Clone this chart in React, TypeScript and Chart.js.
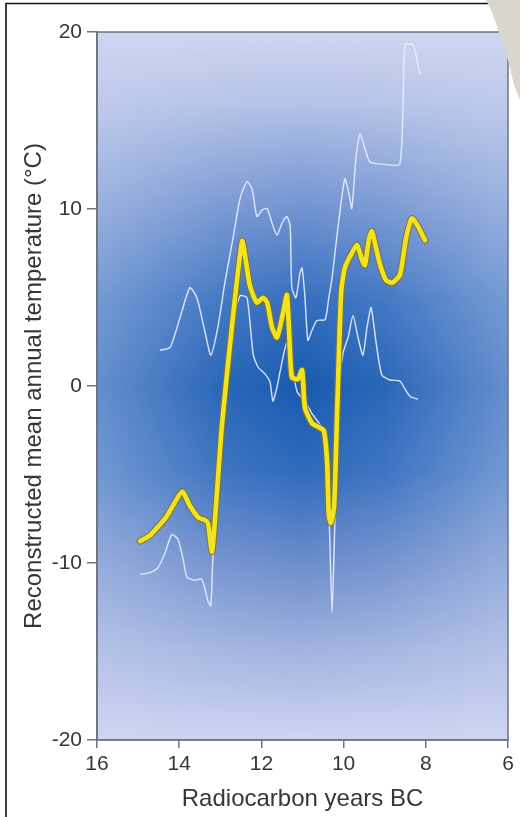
import React, { useEffect, useRef } from "react";
import { Chart, registerables } from "chart.js";

Chart.register(...registerables);

// Reconstructed mean annual temperature (°C) vs radiocarbon years BC (thousands)
const yellowYears = [14.95, 14.71, 14.52, 14.32, 14.18, 13.93, 13.74, 13.54, 13.37, 13.3, 13.2, 13.08, 12.96, 12.72, 12.47, 12.37, 12.28, 12.11, 11.96, 11.86, 11.74, 11.62, 11.47, 11.38, 11.33, 11.26, 11.11, 11.01, 10.94, 10.77, 10.62, 10.48, 10.4, 10.36, 10.31, 10.23, 10.16, 10.06, 9.97, 9.8, 9.67, 9.55, 9.48, 9.38, 9.31, 9.21, 9.11, 8.97, 8.82, 8.63, 8.48, 8.34, 8.19, 8.02];
const yellowTemps = [-8.76, -8.44, -7.96, -7.42, -6.88, -5.97, -6.77, -7.42, -7.58, -7.74, -9.35, -5.97, -2.2, 3.31, 8.18, 6.95, 5.66, 4.71, 4.99, 4.71, 3.31, 2.75, 4.15, 5.15, 3.31, 0.5, 0.39, 0.9, -1.24, -2.1, -2.31, -2.53, -4.35, -7.31, -7.74, -6.77, -1.67, 5.27, 6.67, 7.51, 7.96, 7.11, 6.83, 8.35, 8.74, 7.79, 6.83, 5.99, 5.83, 6.27, 8.35, 9.47, 9.02, 8.24];

const upperYears = [14.47, 14.22, 13.98, 13.74, 13.57, 13.37, 13.23, 13.06, 12.89, 12.69, 12.52, 12.35, 12.23, 12.11, 11.99, 11.86, 11.74, 11.62, 11.5, 11.38, 11.3, 11.26, 11.16, 11.06, 11.01, 10.94, 10.87, 10.77, 10.65, 10.45, 10.36, 10.28, 10.14, 9.97, 9.87, 9.8, 9.7, 9.6, 9.48, 9.36, 9.11, 8.63, 8.51, 8.31, 8.24, 8.14];
const upperTemps = [2.02, 2.18, 3.87, 5.55, 4.99, 3.03, 1.74, 3.31, 5.83, 8.35, 10.59, 11.54, 11.15, 9.58, 9.92, 10.03, 9.19, 8.52, 9.19, 9.58, 9.02, 5.55, 4.99, 6.39, 6.67, 4.99, 2.58, 3.14, 3.7, 3.75, 4.99, 6.11, 8.91, 11.71, 10.87, 10.03, 12.83, 14.23, 13.39, 12.66, 12.55, 12.55, 19.27, 19.27, 18.71, 17.59];

const lowerYears = [14.95, 14.71, 14.52, 14.35, 14.18, 14.03, 13.91, 13.81, 13.62, 13.45, 13.3, 13.23, 13.18, 12.96, 12.72, 12.52, 12.35, 12.2, 12.08, 11.91, 11.79, 11.72, 11.62, 11.5, 11.38, 11.3, 11.13, 10.94, 10.77, 10.57, 10.45, 10.38, 10.33, 10.28, 10.23, 10.16, 10.09, 10.01, 9.89, 9.77, 9.65, 9.53, 9.43, 9.33, 9.21, 9.07, 8.87, 8.63, 8.51, 8.38, 8.19];
const lowerTemps = [-10.65, -10.54, -10.27, -9.46, -8.39, -8.66, -9.73, -10.81, -10.97, -10.91, -12.15, -12.42, -9.73, -2.2, 3.31, 5.1, 4.99, 1.79, 1.06, 0.67, 0.22, -0.86, -0.05, 1.34, 2.46, 1.62, -0.32, -0.86, -1.56, -2.2, -3.01, -5.43, -9.19, -12.8, -9.19, -3.28, 0.5, 1.9, 2.75, 3.98, 2.75, 1.74, 3.31, 4.43, 2.46, 0.62, 0.34, 0.28, -0.16, -0.59, -0.75];

const xTicks = [16, 14, 12, 10, 8, 6];
const yTicks = [20, 10, 0, -10, -20];

const xTitle = "Radiocarbon years BC";
const yTitle = "Reconstructed mean annual temperature (°C)";

const FONT = "'Liberation Sans', Arial, Helvetica, sans-serif";
const TEXT = "#363636";
const AXIS = "#6f737c";

const toPoints = (xs: number[], ys: number[]) => xs.map((x, i) => ({ x, y: ys[i] }));

const bgPlugin = {
  id: "bgGradient",
  beforeDraw(chart: any) {
    const { ctx, chartArea: a } = chart;
    if (!a) return;
    const w = a.right - a.left;
    const h = a.bottom - a.top;
    ctx.save();
    // vertical: light top/bottom, deep blue middle
    const v = ctx.createLinearGradient(0, a.top, 0, a.bottom);
    v.addColorStop(0, "rgb(206,214,241)");
    v.addColorStop(0.1, "rgb(180,194,230)");
    v.addColorStop(0.24, "rgb(118,150,210)");
    v.addColorStop(0.38, "rgb(52,110,190)");
    v.addColorStop(0.5, "rgb(24,90,177)");
    v.addColorStop(0.62, "rgb(46,106,188)");
    v.addColorStop(0.74, "rgb(104,138,202)");
    v.addColorStop(0.87, "rgb(160,178,223)");
    v.addColorStop(1, "rgb(206,213,241)");
    ctx.fillStyle = v;
    ctx.fillRect(a.left, a.top, w, h);
    // horizontal: sides lightened
    const hz = ctx.createLinearGradient(a.left, 0, a.right, 0);
    hz.addColorStop(0, "rgba(205,214,242,0.42)");
    hz.addColorStop(0.3, "rgba(205,214,242,0.1)");
    hz.addColorStop(0.5, "rgba(205,214,242,0)");
    hz.addColorStop(0.7, "rgba(205,214,242,0.1)");
    hz.addColorStop(1, "rgba(205,214,242,0.42)");
    ctx.fillStyle = hz;
    ctx.fillRect(a.left, a.top, w, h);
    ctx.restore();
  },
  beforeDatasetsDraw(chart: any) {
    const { ctx, chartArea: a } = chart;
    ctx.save();
    ctx.strokeStyle = AXIS;
    ctx.lineWidth = 1.5;
    ctx.strokeRect(a.left, a.top, a.right - a.left, a.bottom - a.top);
    ctx.restore();
  },
  afterDraw(chart: any) {
    const { ctx } = chart;
    ctx.save();
    // outer black frame (left and top)
    ctx.strokeStyle = "#111";
    ctx.lineWidth = 1.6;
    ctx.beginPath();
    ctx.moveTo(6, 817);
    ctx.lineTo(6, 3.5);
    ctx.lineTo(488, 3.5);
    ctx.stroke();
    // grey paper curl at top right
    ctx.fillStyle = "#d9d6d0";
    ctx.beginPath();
    ctx.moveTo(486, 0);
    ctx.lineTo(491, 10);
    ctx.lineTo(497, 26);
    ctx.lineTo(503, 44);
    ctx.lineTo(509, 64);
    ctx.lineTo(514, 85);
    ctx.lineTo(520, 100);
    ctx.lineTo(520, 0);
    ctx.closePath();
    ctx.fill();
    ctx.restore();
  },
};

export default function App() {
  const ref = useRef<HTMLCanvasElement | null>(null);

  useEffect(() => {
    if (!ref.current) return;
    const chart = new Chart(ref.current, {
      type: "line",
      data: {
        datasets: [
          {
            label: "mean",
            data: toPoints(yellowYears, yellowTemps),
            borderColor: "#f3e31c",
            borderWidth: 4.6,
            pointRadius: 0,
            tension: 0.2,
            borderCapStyle: "round",
            borderJoinStyle: "round",
            fill: false,
          },
          {
            label: "mean-outline",
            data: toPoints(yellowYears, yellowTemps),
            borderColor: "rgba(130,118,40,0.8)",
            borderWidth: 7,
            pointRadius: 0,
            tension: 0.2,
            borderCapStyle: "round",
            borderJoinStyle: "round",
            fill: false,
          },
          {
            label: "upper",
            data: toPoints(upperYears, upperTemps),
            borderColor: "rgba(232,238,255,0.92)",
            borderWidth: 1.4,
            pointRadius: 0,
            tension: 0.2,
            fill: false,
          },
          {
            label: "lower",
            data: toPoints(lowerYears, lowerTemps),
            borderColor: "rgba(232,238,255,0.92)",
            borderWidth: 1.4,
            pointRadius: 0,
            tension: 0.2,
            fill: false,
          },
        ],
      },
      options: {
        animation: false,
        responsive: false,
        devicePixelRatio: 1,
        parsing: false as any,
        layout: { padding: { top: 32, right: 12, left: 0, bottom: 0 } },
        plugins: { legend: { display: false }, tooltip: { enabled: false } },
        scales: {
          x: {
            type: "linear",
            min: 6,
            max: 16,
            reverse: true,
            afterBuildTicks: (s: any) => {
              s.ticks = xTicks.map((v) => ({ value: v }));
            },
            afterFit: (s: any) => {
              s.height = 77;
            },
            grid: { display: true, drawOnChartArea: false, drawTicks: true, tickLength: 8, color: AXIS, lineWidth: 1.5 },
            border: { display: true, color: AXIS, width: 1.5 },
            ticks: { color: TEXT, font: { size: 21, family: FONT }, padding: 4, maxRotation: 0, autoSkip: false },
            title: { display: true, text: xTitle, color: TEXT, font: { size: 24, family: FONT }, padding: { top: 0, bottom: 3 } },
          },
          y: {
            type: "linear",
            min: -20,
            max: 20,
            afterBuildTicks: (s: any) => {
              s.ticks = yTicks.map((v) => ({ value: v }));
            },
            afterFit: (s: any) => {
              s.width = 97;
            },
            grid: { display: true, drawOnChartArea: false, drawTicks: true, tickLength: 10, color: AXIS, lineWidth: 1.5 },
            border: { display: true, color: AXIS, width: 1.5 },
            ticks: { color: TEXT, font: { size: 21, family: FONT }, padding: 5, autoSkip: false },
            title: { display: true, text: yTitle, color: TEXT, font: { size: 24, family: FONT }, padding: { top: 20, bottom: 0 } },
          },
        },
      },
      plugins: [bgPlugin],
    } as any);
    return () => chart.destroy();
  }, []);

  return (
    <div style={{ position: "absolute", left: 0, top: 0, width: 520, height: 817, background: "#fff" }}>
      <canvas ref={ref} width={520} height={817} style={{ display: "block", width: 520, height: 817 }} />
    </div>
  );
}
